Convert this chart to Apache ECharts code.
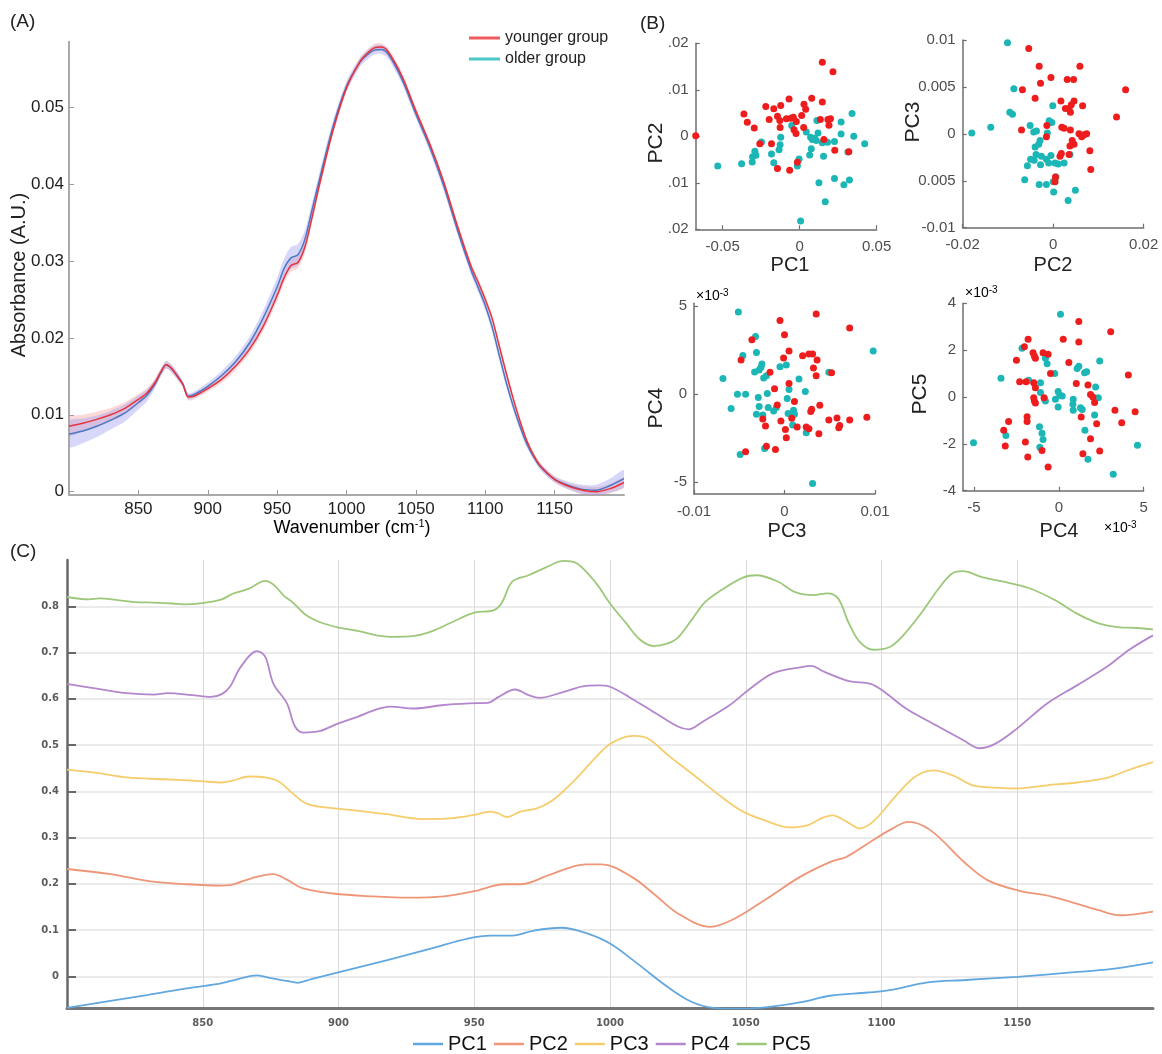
<!DOCTYPE html>
<html>
<head>
<meta charset="utf-8">
<script src="https://cdn.jsdelivr.net/npm/echarts@6/dist/echarts.min.js"></script>
<style>
  html, body { margin: 0; padding: 0; background: #ffffff; }
  #chart { width: 1162px; height: 1054px; }
</style>
</head>
<body>
<div id="chart"></div>
<script>
// ---------- (A) mean FTIR spectra with spread bands ----------
const wavenumbers = [800,810,820,830,840,850,856,862,866,870,874,878,882,886,890,900,910,920,930,940,950,955,960,965,970,975,980,990,1000,1010,1015,1020,1025,1030,1040,1050,1060,1070,1080,1090,1095,1100,1105,1110,1115,1120,1125,1130,1135,1140,1150,1160,1170,1180,1190,1200];
const youngerMean = [0.0085,0.0089,0.0094,0.0100,0.0108,0.0120,0.0128,0.0142,0.0155,0.0165,0.0160,0.0150,0.0140,0.0123,0.0124,0.0134,0.0146,0.0163,0.0185,0.0215,0.0255,0.0278,0.0294,0.0298,0.0318,0.0355,0.0395,0.0468,0.0525,0.0560,0.0570,0.0577,0.0578,0.0572,0.0540,0.0495,0.0452,0.0403,0.0345,0.0292,0.0272,0.0250,0.0225,0.0190,0.0155,0.0122,0.0092,0.0066,0.0047,0.0033,0.0016,0.0007,0.0002,0.0000,0.0004,0.0012];
const youngerSd = [0.0012,0.0011,0.0010,0.0009,0.0008,0.0007,0.0006,0.0005,0.0005,0.0005,0.0005,0.0004,0.0004,0.0004,0.0004,0.0004,0.0005,0.0005,0.0006,0.0006,0.0007,0.0007,0.0008,0.0008,0.0008,0.0007,0.0007,0.0006,0.0005,0.0005,0.0005,0.0005,0.0005,0.0005,0.0005,0.0005,0.0005,0.0005,0.0005,0.0005,0.0005,0.0005,0.0005,0.0005,0.0005,0.0005,0.0005,0.0004,0.0004,0.0004,0.0004,0.0004,0.0005,0.0006,0.0006,0.0007];
const olderMean = [0.0075,0.0079,0.0085,0.0093,0.0102,0.0116,0.0125,0.0140,0.0154,0.0165,0.0160,0.0151,0.0140,0.0124,0.0126,0.0137,0.0151,0.0169,0.0193,0.0226,0.0266,0.0290,0.0304,0.0308,0.0328,0.0365,0.0402,0.0473,0.0527,0.0559,0.0568,0.0574,0.0575,0.0569,0.0536,0.0491,0.0448,0.0398,0.0340,0.0287,0.0265,0.0242,0.0214,0.0178,0.0143,0.0112,0.0085,0.0062,0.0045,0.0032,0.0016,0.0008,0.0003,0.0002,0.0008,0.0017];
const olderSd = [0.0017,0.0016,0.0014,0.0012,0.0011,0.0009,0.0008,0.0006,0.0005,0.0005,0.0005,0.0005,0.0004,0.0004,0.0004,0.0005,0.0006,0.0007,0.0008,0.0010,0.0012,0.0013,0.0014,0.0014,0.0012,0.0010,0.0009,0.0008,0.0007,0.0006,0.0006,0.0006,0.0006,0.0006,0.0006,0.0006,0.0006,0.0006,0.0006,0.0006,0.0006,0.0006,0.0006,0.0006,0.0006,0.0005,0.0005,0.0005,0.0004,0.0004,0.0004,0.0005,0.0006,0.0007,0.0009,0.0011];
const absTicks = [0, 0.01, 0.02, 0.03, 0.04, 0.05];
const absTickLabels = ['0', '0.01', '0.02', '0.03', '0.04', '0.05'];
const wnTicks = [850, 900, 950, 1000, 1050, 1100, 1150];

// ---------- (B) PCA score plots: [x, y] per sample ----------
const pc1pc2Younger = [[-0.0675,0.0001],[0.0147,0.0159],[0.0216,0.0139],[-0.0362,0.0048],[-0.034,0.003],[-0.0295,0.0018],[-0.0259,-0.0016],[-0.0183,-0.0016],[-0.022,0.0064],[-0.0168,0.0059],[-0.0198,0.0036],[-0.0123,0.0066],[-0.0144,0.0043],[-0.0129,0.0034],[-0.0127,0.0019],[-0.0069,0.008],[-0.0086,0.0038],[-0.0056,0.0039],[-0.0041,0.0041],[-0.0022,0.0032],[-0.0037,0.0014],[-0.0024,0.0006],[0.0013,0.0045],[0.0028,0.0069],[0.0039,0.0058],[0.0078,0.0082],[0.0026,0.0019],[0.0147,0.0074],[0.0134,0.0036],[0.0183,0.0036],[0.02,0.0038],[0.019,0.0024],[0.0157,-0.0007],[0.0228,-0.003],[0.0319,-0.0033],[-0.0144,-0.0069],[-0.0065,-0.0073],[-0.0015,-0.0056]];
const pc1pc2Older = [[-0.0532,-0.0064],[-0.0377,-0.0059],[-0.0306,-0.0044],[-0.0291,-0.0032],[-0.0284,-0.0041],[-0.0308,-0.0055],[-0.0248,-0.0012],[-0.0183,-0.0038],[-0.0168,-0.0057],[-0.0123,-0.0002],[-0.0127,-0.0018],[-0.0134,-0.0029],[-0.0052,0.0023],[-0.0004,-0.0049],[-0.0015,-0.0064],[0.0006,-0.0182],[0.0071,-0.0002],[0.0082,-0.0007],[0.0097,-0.0004],[0.0108,-0.0009],[0.0119,0.0007],[0.0112,0.0034],[0.0075,-0.0027],[0.0065,-0.004],[0.0125,-0.01],[0.0155,-0.0043],[0.0147,-0.0014],[0.0181,-0.0013],[0.0226,-0.0011],[0.0166,-0.0141],[0.0226,-0.0091],[0.0287,-0.0104],[0.0323,-0.0094],[0.0269,0.0031],[0.0269,0.0005],[0.034,0.0049],[0.0351,0],[0.0313,-0.0034],[0.0422,-0.0016],[0.0043,0.0009]];
const pc2pc3Younger = [[-0.0054,0.0091],[-0.0031,0.0072],[-0.0005,0.006],[-0.0028,0.0054],[0.0031,0.0058],[0.0045,0.0058],[0.0059,0.0072],[-0.0068,0.0047],[-0.004,0.0038],[0.0017,0.0035],[0.016,0.0047],[0.014,0.0018],[0.0027,0.0027],[0.0035,0.0027],[0.004,0.0031],[0.0046,0.0035],[0.0038,0.0023],[0.0065,0.003],[-0.007,0.0004],[-0.0014,0.0009],[-0.0015,-0.0003],[0.0019,0.0007],[0.0024,0.0006],[0.0038,0.0004],[0.0057,0],[0.0063,-0.0003],[0.0068,-0.0001],[0.0074,0],[0.0042,-0.0007],[0.0046,-0.0011],[0.0037,-0.0013],[0.0081,-0.0018],[0.0035,-0.0022],[0.0015,-0.0024],[0.0018,-0.0021],[0.0083,-0.0038],[0.0005,-0.0046],[0.0004,-0.0051]];
const pc2pc3Older = [[-0.0101,0.0097],[-0.0087,0.0048],[-0.0096,0.0023],[-0.009,0.0021],[-0.018,0.0001],[-0.0138,0.0007],[-0.0051,0.0009],[-0.0043,0.0002],[-0.0037,0.0003],[-0.0029,-0.0007],[-0.0032,-0.0011],[-0.004,-0.0014],[-0.0038,-0.0022],[-0.005,-0.0027],[-0.0057,-0.0034],[-0.0042,-0.0028],[-0.0026,-0.0024],[-0.0028,-0.0033],[-0.0015,-0.0027],[-0.001,-0.0031],[-0.0005,-0.0023],[-0.0001,0.003],[-0.0009,0.0014],[-0.0003,0.0012],[-0.0013,0.0001],[0.0004,-0.0031],[0.0011,-0.0032],[0.0024,-0.0031],[0.0006,-0.0046],[0,-0.0051],[-0.0015,-0.0054],[-0.0031,-0.0054],[-0.0063,-0.0049],[0.0001,-0.0062],[0.0033,-0.0071],[0.0049,-0.006],[0.0037,-0.0022]];
// PC4 and PC5 scores are in units of 1e-3
const pc3pc4Younger = [[0.0035,4.54],[-0.0005,4.18],[0,3.37],[-0.0036,3.08],[-0.0048,1.94],[0.0005,2.45],[-0.0001,2.05],[0.002,2.17],[0.0027,2.28],[0.0031,2.28],[0.0036,1.94],[0.0032,1.48],[0.0035,1.05],[0.0052,1.22],[0.0072,3.75],[-0.0016,1.24],[-0.0011,0.3],[0.0005,0.61],[-0.0008,-0.61],[0.0011,-0.42],[0.0008,-1.37],[-0.0004,-1.52],[0.0001,-2],[0.0002,-2.47],[0.003,-0.86],[0.0029,-0.99],[0.0039,-0.63],[-0.0024,-1.41],[-0.0021,-1.81],[-0.002,-2.95],[-0.001,-3.14],[-0.0043,-3.27],[0.0014,-1.86],[0.0024,-1.86],[0.0027,-1.96],[0.0038,-2.24],[0.0049,-1.46],[0.0058,-1.35],[0.006,-1.9],[0.0061,-1.78],[0.0072,-1.46],[0.0091,-1.31]];
const pc3pc4Older = [[-0.0051,4.66],[-0.0032,3.27],[-0.0046,2.19],[-0.0031,2.36],[-0.0026,1.52],[-0.0028,1.37],[-0.0033,1.25],[-0.0025,1.71],[-0.0068,0.89],[-0.0059,-0.82],[-0.0052,0],[-0.0043,0],[-0.0029,-0.19],[-0.0028,-0.7],[-0.0031,-1.14],[-0.0024,-1.18],[-0.0023,0.91],[-0.002,1.05],[-0.0019,0.04],[-0.0018,-0.76],[-0.0012,-0.95],[-0.0009,-0.76],[-0.0005,1.56],[0.0002,1.65],[0.0005,0.27],[0.0003,-0.25],[0.0004,-1.1],[0.001,-0.91],[0.0011,-1.14],[0.0009,-1.75],[0.0016,0.86],[0.0023,0.15],[0.0024,-2.19],[-0.0022,-3.08],[-0.0049,-3.42],[0.0031,-5.06],[-0.0057,-5.74],[0.0049,1.24],[0.0098,2.45]];
const pc4pc5Younger = [[1.18,3.22],[3.06,2.79],[0.26,2.46],[1.18,2.35],[-1.81,2.46],[-2.03,2.14],[-2.5,1.57],[-1.52,1.89],[-1.44,1.75],[-1.38,1.65],[-0.93,1.89],[-0.63,1.82],[0.59,1.47],[-2.31,0.65],[-1.93,0.65],[-1.48,0.61],[-1.38,0.4],[-0.49,1.0],[1.03,0.58],[1.72,0.51],[-1.48,-0.03],[-1.44,-0.17],[-1.38,-0.26],[-0.87,-0.03],[1.87,0.11],[2.01,0],[2.11,-0.24],[4.1,0.94],[3.31,-0.57],[4.5,-0.63],[3.71,-1.1],[2.23,-1.14],[1.32,-0.85],[-1.87,-0.84],[-1.87,-1.05],[-2.96,-1.05],[-3.25,-1.42],[-3.16,-2.09],[-1.97,-1.92],[-1.83,-2.56],[-0.99,-2.28],[-0.63,-2.99],[1.87,-1.78],[1.42,-2.42],[2.41,-2.31]];
const pc4pc5Older = [[0.1,3.53],[-5.72,-1.49],[-5.03,-1.95],[-3.41,0.8],[-3.12,-1.64],[-2.17,2.08],[-1.78,0.71],[-1.08,0.61],[-0.79,1.65],[-0.69,1.42],[-1.08,0.19],[-0.85,-0.07],[-0.79,-0.17],[-0.24,1.0],[-0.2,-0.1],[-0.04,0.23],[0.06,0.07],[0.2,0.04],[-0.04,-0.43],[-1.14,-1.27],[-0.99,-1.55],[-0.93,-1.81],[-1.12,-2.14],[0.85,-0.1],[0.83,-0.31],[0.85,-0.57],[1.08,1.22],[1.18,1.31],[1.52,1.04],[1.64,1.08],[1.28,-0.46],[1.38,-0.53],[2.11,-0.77],[2.17,0.43],[2.33,-0.03],[2.41,1.54],[1.54,-1.42],[1.72,-2.66],[3.21,-3.3],[4.64,-2.06]];
const pc1Ticks = [-0.05, 0, 0.05],                 pc1Labels = ['-0.05', '0', '0.05'];
const pc2TicksY = [-0.02, -0.01, 0, 0.01, 0.02],    pc2LabelsY = ['.02', '.01', '0', '.01', '.02'];
const pc2TicksX = [-0.02, 0, 0.02],                 pc2LabelsX = ['-0.02', '0', '0.02'];
const pc3TicksY = [-0.01, -0.005, 0, 0.005, 0.01],  pc3LabelsY = ['-0.01', '0.005', '0', '0.005', '0.01'];
const pc3TicksX = [-0.01, 0, 0.01],                 pc3LabelsX = ['-0.01', '0', '0.01'];
const pc4TicksY = [-5, 0, 5],                       pc4LabelsY = ['-5', '0', '5'];
const pc4TicksX = [-5, 0, 5],                       pc4LabelsX = ['-5', '0', '5'];
const pc5TicksY = [-4, -2, 0, 2, 4],                pc5LabelsY = ['-4', '-2', '0', '2', '4'];

// ---------- (C) PCA loadings (offset for display) ----------
const pc1 = [[800,-0.068],[816,-0.053],[830,-0.04],[844,-0.026],[855,-0.017],[863,-0.006],[870,0.002],[875,-0.004],[881,-0.01],[885,-0.014],[890,-0.006],[901,0.01],[918,0.035],[934,0.06],[948,0.082],[956,0.088],[964,0.088],[972,0.099],[982,0.105],[991,0.094],[1000,0.071],[1010,0.028],[1021,-0.022],[1030,-0.055],[1038,-0.068],[1049,-0.07],[1060,-0.065],[1071,-0.055],[1081,-0.042],[1095,-0.035],[1103,-0.03],[1117,-0.013],[1131,-0.008],[1150,-0.001],[1169,0.008],[1185,0.016],[1200,0.03]];
const pc2 = [[800,0.232],[816,0.221],[830,0.206],[844,0.199],[857,0.196],[860,0.197],[868,0.212],[876,0.221],[881,0.209],[887,0.19],[898,0.179],[912,0.173],[926,0.17],[939,0.173],[950,0.184],[961,0.199],[967,0.199],[978,0.22],[991,0.242],[997,0.242],[1008,0.215],[1016,0.179],[1025,0.136],[1037,0.107],[1046,0.125],[1057,0.165],[1070,0.215],[1081,0.247],[1087,0.258],[1095,0.287],[1103,0.316],[1110,0.334],[1118,0.316],[1131,0.244],[1139,0.208],[1150,0.186],[1163,0.172],[1180,0.143],[1188,0.132],[1200,0.14]];
const pc3 = [[800,0.447],[811,0.44],[822,0.43],[836,0.426],[849,0.422],[857,0.419],[861,0.423],[867,0.432],[873,0.43],[878,0.421],[883,0.396],[888,0.374],[895,0.365],[902,0.361],[917,0.351],[931,0.34],[942,0.342],[950,0.349],[956,0.356],[959,0.352],[962,0.344],[967,0.356],[973,0.363],[979,0.381],[987,0.424],[995,0.475],[1000,0.502],[1006,0.518],[1009,0.52],[1014,0.514],[1022,0.475],[1030,0.439],[1041,0.388],[1049,0.356],[1058,0.335],[1066,0.322],[1073,0.327],[1078,0.342],[1082,0.348],[1087,0.335],[1092,0.32],[1097,0.335],[1105,0.388],[1112,0.43],[1119,0.445],[1126,0.435],[1134,0.412],[1142,0.408],[1150,0.406],[1161,0.413],[1172,0.419],[1183,0.429],[1191,0.446],[1200,0.463]];
const pc4 = [[800,0.632],[811,0.622],[822,0.612],[832,0.609],[837,0.612],[846,0.608],[853,0.604],[857,0.61],[860,0.626],[864,0.669],[870,0.703],[873,0.691],[876,0.633],[881,0.59],[884,0.54],[887,0.527],[893,0.53],[900,0.547],[907,0.561],[914,0.577],[919,0.583],[928,0.579],[938,0.586],[948,0.59],[955,0.591],[959,0.604],[965,0.62],[970,0.608],[974,0.602],[983,0.615],[991,0.628],[996,0.629],[1000,0.626],[1007,0.604],[1017,0.568],[1025,0.54],[1029,0.534],[1034,0.55],[1044,0.586],[1051,0.619],[1060,0.655],[1071,0.669],[1074,0.671],[1079,0.658],[1088,0.638],[1096,0.632],[1101,0.615],[1109,0.579],[1120,0.543],[1130,0.511],[1136,0.493],[1142,0.503],[1150,0.536],[1161,0.59],[1172,0.629],[1183,0.669],[1191,0.705],[1200,0.737]];
const pc5 = [[800,0.82],[808,0.815],[812,0.817],[818,0.814],[825,0.809],[832,0.808],[839,0.806],[843,0.804],[850,0.807],[857,0.815],[861,0.827],[867,0.838],[873,0.855],[876,0.847],[880,0.822],[883,0.809],[888,0.781],[893,0.766],[900,0.754],[907,0.747],[914,0.737],[919,0.734],[928,0.736],[934,0.745],[942,0.766],[950,0.786],[957,0.791],[960,0.806],[964,0.853],[970,0.867],[976,0.883],[983,0.898],[988,0.892],[995,0.849],[1000,0.806],[1006,0.763],[1011,0.728],[1016,0.714],[1021,0.719],[1025,0.732],[1030,0.77],[1035,0.809],[1041,0.835],[1049,0.862],[1054,0.867],[1062,0.853],[1068,0.831],[1075,0.824],[1080,0.828],[1084,0.817],[1088,0.763],[1092,0.723],[1097,0.706],[1103,0.712],[1108,0.737],[1115,0.788],[1121,0.838],[1126,0.871],[1130,0.876],[1137,0.863],[1145,0.853],[1154,0.84],[1164,0.813],[1172,0.784],[1180,0.763],[1187,0.755],[1194,0.753],[1200,0.75]];
const loadingTicks = [0, 0.1, 0.2, 0.3, 0.4, 0.5, 0.6, 0.7, 0.8];
const pcNames = ['PC1', 'PC2', 'PC3', 'PC4', 'PC5'];
const pcColors = ['#62a7de', '#ee9677', '#f6cd6c', '#b486cc', '#9dc87a'];

// ---------- styling ----------
const NARROW = "'Liberation Sans Narrow', 'Liberation Sans', Arial, sans-serif";
const RED = '#ee1d1d', CYAN = '#1db6b6';
const YOUNG_LINE = '#e8333d', OLD_LINE = '#4a78c2';

function labelFor(v, ticks, labels) {
  let best = 0;
  for (let i = 1; i < ticks.length; i++) {
    if (Math.abs(ticks[i] - v) < Math.abs(ticks[best] - v)) best = i;
  }
  return labels[best];
}

function scoreAxis(gridIndex, min, max, ticks, labels, isY) {
  return {
    gridIndex, type: 'value', min, max,
    position: isY ? 'left' : 'bottom',
    axisLine: { show: true, onZero: false, lineStyle: { color: '#6e6e6e', width: 1.5 } },
    axisTick: { show: true, inside: true, length: 4, customValues: ticks, lineStyle: { color: '#6e6e6e', width: 1.2 } },
    axisLabel: {
      customValues: ticks, formatter: (v) => labelFor(v, ticks, labels),
      color: '#4e4e4e', fontSize: 15, fontFamily: NARROW, margin: isY ? 7 : 10
    },
    splitLine: { show: false }
  };
}

function txt(x, y, text, size, extra) {
  return Object.assign({
    type: 'text', x, y, silent: true,
    style: { text, fontSize: size, fontFamily: NARROW, fill: '#222', align: 'center', verticalAlign: 'middle' }
  }, extra || {});
}

function panelTag(x, y, text) {
  return {
    type: 'text', x, y, silent: true,
    style: { text, fontSize: 19, fontFamily: NARROW, fill: '#222', align: 'left', verticalAlign: 'middle' }
  };
}

function sciTag(x, y) {
  return {
    type: 'text', x, y, silent: true,
    style: {
      text: '{a|×10}{b|-3}', align: 'left', verticalAlign: 'middle',
      rich: {
        a: { fontSize: 14, fontFamily: NARROW, color: '#6a6a6a' },
        b: { fontSize: 10, fontFamily: NARROW, color: '#6a6a6a', verticalAlign: 'top', padding: [0, 0, 6, 0] }
      }
    }
  };
}

// Shaded band between mean - sd and mean + sd, drawn as one smoothed polygon
function bandSeries(mean, sd, color) {
  const rows = wavenumbers.map((w, i) => [w, mean[i] - sd[i], mean[i] + sd[i]]);
  return {
    type: 'custom', xAxisIndex: 0, yAxisIndex: 0, silent: true, clip: true, z: 1,
    data: rows,
    encode: { x: 0, y: [1, 2] },
    renderItem: (params, api) => {
      if (params.dataIndex !== 0) return null;
      const upper = rows.map((r) => api.coord([r[0], r[2]]));
      const lower = rows.slice().reverse().map((r) => api.coord([r[0], r[1]]));
      return {
        type: 'polygon',
        shape: { points: upper.concat(lower), smooth: 0.25 },
        style: { fill: color, stroke: null }
      };
    }
  };
}

const scatter = (name, idx, data, color) => ({
  type: 'scatter', name, xAxisIndex: idx, yAxisIndex: idx, data,
  symbol: 'circle', symbolSize: 7, itemStyle: { color, opacity: 1 }, z: 3
});

const option = {
  animation: false,
  backgroundColor: '#ffffff',
  grid: [
    { left: 69, top: 41.7, width: 555, height: 453.3 },     // A
    { left: 695.7, top: 43.3, width: 181, height: 186 },    // B: PC1 vs PC2
    { left: 962.7, top: 40, width: 181, height: 187.7 },    // B: PC2 vs PC3
    { left: 694, top: 303.3, width: 181, height: 190.7 },   // B: PC3 vs PC4
    { left: 963, top: 303.3, width: 180.6, height: 187.4 }, // B: PC4 vs PC5
    { left: 67, top: 560, width: 1086, height: 448.7 }      // C
  ],
  xAxis: [
    {
      gridIndex: 0, type: 'value', min: 800, max: 1200,
      axisLine: { show: true, onZero: false, lineStyle: { color: '#aaaaaa', width: 2 } },
      axisTick: { show: true, inside: true, length: 5, customValues: wnTicks, lineStyle: { color: '#9a9a9a' } },
      axisLabel: { customValues: wnTicks, formatter: (v) => String(v), color: '#1e1e1e', fontSize: 17, fontFamily: NARROW, margin: 6 },
      splitLine: { show: false }
    },
    scoreAxis(1, -0.0675, 0.05, pc1Ticks, pc1Labels, false),
    scoreAxis(2, -0.02, 0.02, pc2TicksX, pc2LabelsX, false),
    scoreAxis(3, -0.01, 0.01, pc3TicksX, pc3LabelsX, false),
    scoreAxis(4, -5.65, 5, pc4TicksX, pc4LabelsX, false),
    {
      gridIndex: 5, type: 'value', min: 800, max: 1200,
      axisLine: { show: true, onZero: false, lineStyle: { color: '#767676', width: 3 } },
      axisTick: { show: false, customValues: wnTicks },
      axisLabel: { customValues: wnTicks, formatter: (v) => String(v), color: '#5c5c5c', fontSize: 10, fontWeight: 'bold', fontFamily: 'DejaVu Sans', margin: 10 },
      splitLine: { show: true, lineStyle: { color: '#d9d9d9', width: 1 } }
    }
  ],
  yAxis: [
    {
      gridIndex: 0, type: 'value', min: -0.00043, max: 0.0585,
      axisLine: { show: true, onZero: false, lineStyle: { color: '#aaaaaa', width: 2 } },
      axisTick: { show: true, inside: true, length: 5, customValues: absTicks, lineStyle: { color: '#9a9a9a' } },
      axisLabel: {
        customValues: absTicks, formatter: (v) => labelFor(v, absTicks, absTickLabels),
        color: '#1e1e1e', fontSize: 17, fontFamily: NARROW, margin: 5
      },
      splitLine: { show: false }
    },
    scoreAxis(1, -0.02, 0.02, pc2TicksY, pc2LabelsY, true),
    scoreAxis(2, -0.01, 0.01, pc3TicksY, pc3LabelsY, true),
    scoreAxis(3, -5.66, 5.15, pc4TicksY, pc4LabelsY, true),
    scoreAxis(4, -4, 4, pc5TicksY, pc5LabelsY, true),
    {
      gridIndex: 5, type: 'value', min: -0.07, max: 0.9,
      axisLine: { show: true, onZero: false, lineStyle: { color: '#686868', width: 2.5 } },
      axisTick: { show: true, inside: true, length: 9, customValues: loadingTicks, lineStyle: { color: '#686868', width: 2 } },
      axisLabel: {
        customValues: loadingTicks, formatter: (v) => (Math.abs(v) < 1e-9 ? '0' : v.toFixed(1)),
        color: '#5c5c5c', fontSize: 10, fontWeight: 'bold', fontFamily: 'DejaVu Sans', margin: 8
      },
      splitLine: { show: true, lineStyle: { color: '#ebebeb', width: 2 } }
    }
  ],
  legend: [
    {
      left: 464, top: 25, orient: 'vertical', icon: 'rect', itemWidth: 31, itemHeight: 3, itemGap: 5,
      selectedMode: false,
      textStyle: { fontSize: 16, fontFamily: NARROW, color: '#222' },
      data: [
        { name: 'younger group', itemStyle: { color: '#f05c5c' } },
        { name: 'older group', itemStyle: { color: '#4cc8c8' } }
      ]
    },
    {
      left: 408, top: 1029, orient: 'horizontal', icon: 'rect', itemWidth: 30, itemHeight: 2.5, itemGap: 7,
      selectedMode: false,
      textStyle: { fontSize: 20, fontFamily: NARROW, color: '#111' },
      data: pcNames.map((n, i) => ({ name: n, itemStyle: { color: pcColors[i] } }))
    }
  ],
  series: [
    bandSeries(youngerMean, youngerSd, 'rgba(246,150,150,0.35)'),
    bandSeries(olderMean, olderSd, 'rgba(150,150,238,0.38)'),
    {
      type: 'line', name: 'older group', xAxisIndex: 0, yAxisIndex: 0,
      data: wavenumbers.map((w, i) => [w, olderMean[i]]),
      symbol: 'none', smooth: 0.3, lineStyle: { color: OLD_LINE, width: 1.5 }, itemStyle: { color: OLD_LINE }, z: 2
    },
    {
      type: 'line', name: 'younger group', xAxisIndex: 0, yAxisIndex: 0,
      data: wavenumbers.map((w, i) => [w, youngerMean[i]]),
      symbol: 'none', smooth: 0.3, lineStyle: { color: YOUNG_LINE, width: 1.5 }, itemStyle: { color: YOUNG_LINE }, z: 2
    },
    scatter('older PC1-PC2', 1, pc1pc2Older, CYAN),
    scatter('younger PC1-PC2', 1, pc1pc2Younger, RED),
    scatter('older PC2-PC3', 2, pc2pc3Older, CYAN),
    scatter('younger PC2-PC3', 2, pc2pc3Younger, RED),
    scatter('older PC3-PC4', 3, pc3pc4Older, CYAN),
    scatter('younger PC3-PC4', 3, pc3pc4Younger, RED),
    scatter('older PC4-PC5', 4, pc4pc5Older, CYAN),
    scatter('younger PC4-PC5', 4, pc4pc5Younger, RED),
    ...[pc1, pc2, pc3, pc4, pc5].map((d, i) => ({
      type: 'line', name: pcNames[i], xAxisIndex: 5, yAxisIndex: 5, data: d,
      symbol: 'none', smooth: 0.35, lineStyle: { color: pcColors[i], width: 1.8 },
      itemStyle: { color: pcColors[i] }, z: 2
    }))
  ],
  graphic: [
    panelTag(10, 22, '(A)'),
    panelTag(640, 24, '(B)'),
    panelTag(10, 552, '(C)'),
    txt(19, 275, 'Absorbance (A.U.)', 20, { rotation: Math.PI / 2 }),
    {
      type: 'text', x: 352, y: 528, silent: true,
      style: {
        text: '{n|Wavenumber (cm}{s|-1}{n|)}', align: 'center', verticalAlign: 'middle',
        rich: {
          n: { fontSize: 18, fontFamily: NARROW, color: '#222' },
          s: { fontSize: 11, fontFamily: NARROW, color: '#222', verticalAlign: 'top', padding: [0, 0, 8, 0] }
        }
      }
    },
    txt(790, 265, 'PC1', 20),
    txt(1053, 265, 'PC2', 20),
    txt(787, 531, 'PC3', 20),
    txt(1059, 531, 'PC4', 20),
    txt(656, 143, 'PC2', 21, { rotation: Math.PI / 2 }),
    txt(913, 122, 'PC3', 21, { rotation: Math.PI / 2 }),
    txt(656, 408, 'PC4', 21, { rotation: Math.PI / 2 }),
    txt(920, 394, 'PC5', 21, { rotation: Math.PI / 2 }),
    sciTag(696, 296),
    sciTag(965, 293),
    sciTag(1104, 528)
  ]
};

const chart = echarts.init(document.getElementById('chart'), null, { renderer: 'canvas' });
chart.setOption(option);
</script>
</body>
</html>
